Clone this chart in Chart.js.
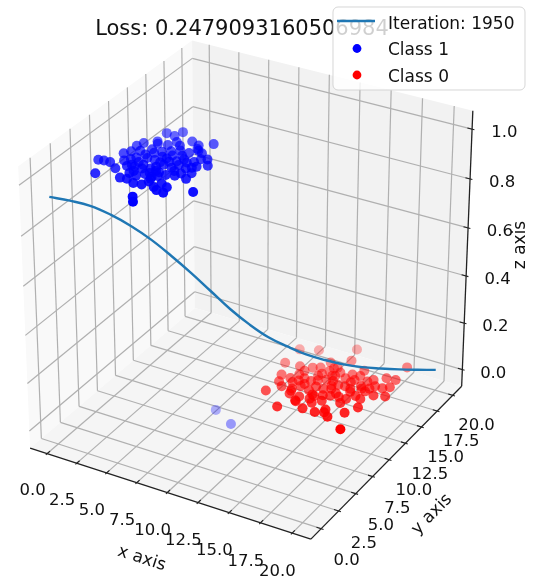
<!DOCTYPE html>
<html>
<head>
<meta charset="utf-8">
<script src="https://cdn.jsdelivr.net/npm/chart.js@4.4.1/dist/chart.umd.min.js"></script>
<style>
  body { margin: 0; background: #fff; }
  #wrap { width: 537px; height: 583px; }
</style>
</head>
<body>
<div id="wrap"><canvas id="grafico" width="537" height="583"></canvas></div>
<script>
// curve along the diagonal x = y, z
const curveX = [0, 1, 2, 3, 4, 5, 6, 7, 8, 9, 10, 11, 12, 13, 14, 15, 16, 17, 18, 19, 20];
const curveY = [0, 1, 2, 3, 4, 5, 6, 7, 8, 9, 10, 11, 12, 13, 14, 15, 16, 17, 18, 19, 20];
const curveZ = [0.94, 0.915, 0.885, 0.84, 0.785, 0.72, 0.645, 0.565, 0.48, 0.395, 0.32, 0.255, 0.205, 0.16, 0.125, 0.095, 0.072, 0.055, 0.04, 0.027, 0.015];

// Class 1 (blue)
const class1X = [3.2, 3.9, 4.1,
  2.4, 2.6, 3.5, 4.2, 5.4, 6.1, 6.9,
  2.2, 2.5, 3.6, 3.6, 4.4, 5.3, 5.4, 6.1, 6.5,
  1.2, 1.6, 2.1, 3.1, 3.8, 4.0, 4.6, 5.1, 5.2, 6.0, 6.3, 7.1, 7.3, 7.7,
  2.9, 3.4, 3.9, 4.5, 5.0, 5.2, 5.5, 6.2, 6.4, 7.1, 7.6, 8.2,
  2.1, 3.9, 4.1, 4.7, 5.1, 5.7, 5.8, 6.4, 7.0, 7.2, 7.8,
  5.1, 5.7, 5.9, 6.6, 6.8, 7.4,
  6.1, 6.5, 7.6, 9.3, 7.0,
  4.8, 5.6, 3.3, 4.3, 5.9, 6.7, 4.9, 3.0, 5.5, 6.6, 4.2, 5.3, 3.6,
  6.0, 7.4, 4.0, 5.0, 2.8, 6.9, 4.5, 3.3, 5.8, 7.9, 4.4, 6.3,
  8.6, 10.5];
const class1Y = [10.2, 10.1, 10.9,
  7.5, 8.1, 8.5, 8.7, 10.0, 9.7, 10.4,
  6.1, 6.6, 6.7, 7.6, 7.6, 7.5, 8.4, 8.4, 9.0,
  4.4, 4.5, 4.5, 5.6, 5.5, 6.3, 6.3, 6.2, 6.9, 6.9, 7.4, 7.4, 8.0, 8.2,
  3.9, 4.6, 4.8, 4.8, 5.1, 5.5, 6.0, 5.9, 6.5, 6.3, 6.9, 7.4,
  2.6, 2.9, 3.8, 3.7, 4.2, 4.1, 4.9, 4.8, 5.0, 5.5, 5.9,
  2.7, 2.8, 3.4, 2.9, 3.6, 3.3,
  1.0, 0.4, 2.5, 3.6, 2.6,
  7.0, 6.6, 6.0, 5.3, 7.8, 7.1, 8.0, 7.0, 5.0, 5.6, 4.2, 4.5, 4.9,
  4.4, 6.6, 7.2, 9.0, 5.2, 8.8, 9.4, 8.8, 3.8, 5.0, 3.0, 9.2,
  7.6, 6.5];
const class1Z = [1, 1, 1,
  1, 1, 1, 1, 1, 1, 1,
  1, 1, 1, 1, 1, 1, 1, 1, 1,
  1, 1, 1, 1, 1, 1, 1, 1, 1, 1, 1, 1, 1, 1,
  1, 1, 1, 1, 1, 1, 1, 1, 1, 1, 1, 1,
  1, 1, 1, 1, 1, 1, 1, 1, 1, 1, 1,
  1, 1, 1, 1, 1, 1,
  1, 1, 1, 1, 1,
  1, 1, 1, 1, 1, 1, 1, 1, 1, 1, 1, 1, 1,
  1, 1, 1, 1, 1, 1, 1, 1, 1, 1, 1, 1,
  0, 0];

// Class 0 (red)
const class0X = [9.7, 11.0, 13.4, 9.7, 11.8, 12.3, 13.8, 15.3, 17.8, 17.2, 17.9,
  10.3, 10.6, 11.1, 11.8, 12.0, 12.6, 12.7, 13.5, 13.8, 13.9, 14.6, 15.3, 15.4, 16.2,
  11.1, 10.4, 11.9, 12.3, 13.1, 13.3, 13.9, 14.2, 14.6, 15.1, 15.6, 16.1, 16.8, 17.0, 17.6, 18.3,
  12.9, 13.7, 13.8, 14.6, 14.8, 15.4, 16.0, 16.4, 16.7,
  13.0, 12.2, 14.9, 15.4, 16.0, 16.8, 17.3, 17.6,
  12.1, 11.5, 13.1, 13.4,
  13.0, 14.0, 12.8, 14.3, 15.8, 13.6, 12.4, 15.0, 16.3, 11.5, 14.8, 13.2, 17.5, 12.9,
  15.9, 14.1, 16.9, 11.4, 13.6, 15.2, 12.0, 14.4, 16.5, 10.9, 18.0, 13.9, 15.5, 12.6];
const class0Y = [18.0, 18.6, 20.1, 15.8, 16.2, 16.5, 18.5, 17.7, 19.7, 17.6, 17.7,
  14.2, 13.3, 14.1, 14.1, 14.6, 14.5, 15.4, 15.2, 16.0, 16.6, 16.1, 16.2, 16.9, 16.5,
  12.8, 11.7, 12.9, 13.5, 13.3, 14.0, 14.0, 14.7, 15.0, 15.1, 15.0, 15.7, 15.7, 16.2, 16.2, 15.3,
  12.2, 12.3, 12.8, 12.5, 13.4, 13.6, 13.6, 14.3, 15.2,
  11.5, 10.2, 10.9, 11.6, 10.8, 11.9, 13.0, 9.8,
  12.2, 15.5, 16.4, 17.1,
  14.8, 15.3, 15.8, 13.2, 14.6, 12.9, 13.9, 13.9, 15.4, 13.7, 16.8, 16.9, 15.0, 11.6,
  12.9, 11.9, 14.1, 14.9, 15.9, 15.8, 12.6, 14.3, 16.9, 15.9, 16.6, 10.9, 11.2, 17.5];
const class0Z = [0, 0, 0, 0, 0, 0, 0, 0, 0, 0, 0,
  0, 0, 0, 0, 0, 0, 0, 0, 0, 0, 0, 0, 0, 0,
  0, 0, 0, 0, 0, 0, 0, 0, 0, 0, 0, 0, 0, 0, 0, 0,
  0, 0, 0, 0, 0, 0, 0, 0, 0,
  0, 0, 0, 0, 0, 0, 0, 0,
  0, 0, 0, 0,
  0, 0, 0, 0, 0, 0, 0, 0, 0, 0, 0, 0, 0, 0,
  0, 0, 0, 0, 0, 0, 0, 0, 0, 0, 0, 0, 0, 0];

// axes
const xTicks = [0, 2.5, 5, 7.5, 10, 12.5, 15, 17.5, 20];
const yTicks = [0, 2.5, 5, 7.5, 10, 12.5, 15, 17.5, 20];
const zTicks = [0, 0.2, 0.4, 0.6, 0.8, 1.0];
const xLim = [-1, 21];
const yLim = [-1, 21];
const zLim = [-0.05, 1.05];

const titulo = "Loss: 0.2479093160506984";
const legendaTextos = ["Iteration: 1950", "Class 1", "Class 0"];

// camera (matplotlib default view)
const elev = 30 * Math.PI / 180;
const azim = -60 * Math.PI / 180;
const dist = 10;
const ce = Math.cos(elev), se = Math.sin(elev), ca = Math.cos(azim), sa = Math.sin(azim);
const U = [-sa, ca, 0];
const V = [-se * ca, -se * sa, ce];
const W = [ce * ca, ce * sa, se];
const H = 0.5 + 1 / 48; // pane half size

function norm(v, lim) {
  return (v - lim[0]) / (lim[1] - lim[0]) - 0.5;
}
function dot(a, b) {
  return a[0] * b[0] + a[1] * b[1] + a[2] * b[2];
}
function projQ(q) {
  const w = dot(q, W);
  const d = dist - w;
  return { x: dot(q, U) / d, y: dot(q, V) / d, w: w };
}
function proj(x, y, z) {
  return projQ([norm(x, xLim), norm(y, yLim), norm(z, zLim)]);
}
function montar(xs, ys, zs) {
  return xs.map((x, i) => proj(x, ys[i], zs[i]));
}
function alphas(pts) {
  const ws = pts.map((p) => p.w);
  const mn = Math.min(...ws), mx = Math.max(...ws);
  return ws.map((w) => 1 - 0.7 * (mx - w) / (mx - mn));
}

const ptsCurva = montar(curveX, curveY, curveZ);
const pts1 = montar(class1X, class1Y, class1Z);
const pts0 = montar(class0X, class0Y, class0Z);
const cores1 = alphas(pts1).map((a) => "rgba(0,0,255," + a.toFixed(3) + ")");
const cores0 = alphas(pts0).map((a) => "rgba(255,0,0," + a.toFixed(3) + ")");

const fonte = "DejaVu Sans";

function linha(ctx, a, b) {
  ctx.beginPath();
  ctx.moveTo(a[0], a[1]);
  ctx.lineTo(b[0], b[1]);
  ctx.stroke();
}

const cena3d = {
  id: "cena3d",
  beforeDatasetsDraw(chart) {
    const ctx = chart.ctx;
    const px = (q) => {
      const p = projQ(q);
      return [chart.scales.x.getPixelForValue(p.x), chart.scales.y.getPixelForValue(p.y)];
    };
    ctx.save();
    // panes
    const panes = [
      ["rgb(249,249,249)", [[-H, -H, -H], [-H, H, -H], [-H, H, H], [-H, -H, H]]],
      ["rgb(242,242,242)", [[-H, H, -H], [H, H, -H], [H, H, H], [-H, H, H]]],
      ["rgb(245,245,245)", [[-H, -H, -H], [H, -H, -H], [H, H, -H], [-H, H, -H]]],
    ];
    panes.forEach(([cor, cantos]) => {
      ctx.beginPath();
      cantos.forEach((c, i) => {
        const p = px(c);
        if (i === 0) ctx.moveTo(p[0], p[1]);
        else ctx.lineTo(p[0], p[1]);
      });
      ctx.closePath();
      ctx.fillStyle = cor;
      ctx.fill();
    });

    // grid
    ctx.strokeStyle = "#b0b0b0";
    ctx.lineWidth = 1.2;
    xTicks.forEach((v) => {
      const q = norm(v, xLim);
      linha(ctx, px([q, -H, -H]), px([q, H, -H]));
      linha(ctx, px([q, H, -H]), px([q, H, H]));
    });
    yTicks.forEach((v) => {
      const q = norm(v, yLim);
      linha(ctx, px([-H, q, -H]), px([H, q, -H]));
      linha(ctx, px([-H, q, -H]), px([-H, q, H]));
    });
    zTicks.forEach((v) => {
      const q = norm(v, zLim);
      linha(ctx, px([-H, -H, q]), px([-H, H, q]));
      linha(ctx, px([-H, H, q]), px([H, H, q]));
    });

    // axis lines
    ctx.strokeStyle = "#222";
    ctx.lineWidth = 1.3;
    linha(ctx, px([-H, -H, -H]), px([H, -H, -H]));
    linha(ctx, px([H, -H, -H]), px([H, H, -H]));
    linha(ctx, px([H, H, -H]), px([H, H, H]));

    // ticks
    const tOut = 0.1 / 12, tIn = 0.2 / 12;
    ctx.lineWidth = 1.1;
    xTicks.forEach((v) => {
      const q = norm(v, xLim);
      linha(ctx, px([q, -H - tOut, -H]), px([q, -H + tIn, -H]));
    });
    yTicks.forEach((v) => {
      const q = norm(v, yLim);
      linha(ctx, px([H + tOut, q, -H]), px([H - tIn, q, -H]));
    });
    zTicks.forEach((v) => {
      const q = norm(v, zLim);
      linha(ctx, px([H + tOut, H, q]), px([H - tIn, H, q]));
    });
    ctx.restore();
  },
  afterDraw(chart) {
    const ctx = chart.ctx;
    const px = (q) => {
      const p = projQ(q);
      return [chart.scales.x.getPixelForValue(p.x), chart.scales.y.getPixelForValue(p.y)];
    };
    ctx.save();
    ctx.fillStyle = "#111";
    ctx.textAlign = "center";
    ctx.textBaseline = "middle";

    // tick labels
    const off = 0.092;
    ctx.font = "16.5px '" + fonte + "'";
    xTicks.forEach((v) => {
      const p = px([norm(v, xLim), -H - off, -H - off]);
      ctx.fillText(v.toFixed(1), p[0], p[1]);
    });
    yTicks.forEach((v) => {
      const p = px([H + off, norm(v, yLim), -H - off]);
      ctx.fillText(v.toFixed(1), p[0], p[1]);
    });
    zTicks.forEach((v) => {
      const p = px([H + 0.1, H + 0.03, norm(v, zLim)]);
      ctx.fillText(v.toFixed(1), p[0], p[1]);
    });

    // axis labels
    ctx.font = "17px '" + fonte + "'";
    const rotulo = (texto, pos, a, b) => {
      const p = px(pos);
      const p1 = px(a), p2 = px(b);
      let ang = Math.atan2(p2[1] - p1[1], p2[0] - p1[0]);
      if (ang > Math.PI / 2) ang -= Math.PI;
      if (ang < -Math.PI / 2) ang += Math.PI;
      ctx.save();
      ctx.translate(p[0], p[1]);
      ctx.rotate(ang);
      ctx.fillText(texto, 0, 0);
      ctx.restore();
    };
    rotulo("x axis", [0, -H - 0.16, -H - 0.16], [-H, -H, -H], [H, -H, -H]);
    rotulo("y axis", [H + 0.16, 0, -H - 0.16], [H, -H, -H], [H, H, -H]);
    const pz = px([H + 0.13, H + 0.13, 0]);
    ctx.save();
    ctx.translate(pz[0], pz[1]);
    ctx.rotate(-Math.PI / 2);
    ctx.fillText("z axis", 0, 0);
    ctx.restore();

    // title
    ctx.font = "21px '" + fonte + "'";
    ctx.textBaseline = "alphabetic";
    ctx.fillText(titulo, 242, 35);

    // legend
    const bx = 333, by = 7, bw = 192, bh = 83, r = 5;
    ctx.beginPath();
    ctx.moveTo(bx + r, by);
    ctx.arcTo(bx + bw, by, bx + bw, by + bh, r);
    ctx.arcTo(bx + bw, by + bh, bx, by + bh, r);
    ctx.arcTo(bx, by + bh, bx, by, r);
    ctx.arcTo(bx, by, bx + bw, by, r);
    ctx.closePath();
    ctx.fillStyle = "rgba(255,255,255,0.8)";
    ctx.fill();
    ctx.strokeStyle = "rgba(204,204,204,0.8)";
    ctx.lineWidth = 1;
    ctx.stroke();

    ctx.strokeStyle = "#1f77b4";
    ctx.lineWidth = 2.4;
    linha(ctx, [337, 21], [375, 21]);
    ctx.fillStyle = "#0000ff";
    ctx.beginPath();
    ctx.arc(357, 48.5, 4.4, 0, Math.PI * 2);
    ctx.fill();
    ctx.fillStyle = "#ff0000";
    ctx.beginPath();
    ctx.arc(357, 75, 4.4, 0, Math.PI * 2);
    ctx.fill();

    ctx.fillStyle = "#111";
    ctx.textAlign = "left";
    ctx.font = "17px '" + fonte + "'";
    ctx.fillText(legendaTextos[0], 388, 28.5);
    ctx.fillText(legendaTextos[1], 388, 55);
    ctx.fillText(legendaTextos[2], 388, 81.5);
    ctx.restore();
  },
};

// pixel mapping of the projected plane
const kx = 3170, ky = 3140, ox = 249, oy = 280.8;

new Chart(document.getElementById("grafico"), {
  type: "scatter",
  data: {
    datasets: [
      {
        label: legendaTextos[1],
        data: pts1.map((p) => ({ x: p.x, y: p.y })),
        pointBackgroundColor: cores1,
        pointBorderWidth: 0,
        pointRadius: 5,
        order: 1,
      },
      {
        type: "line",
        label: legendaTextos[0],
        data: ptsCurva.map((p) => ({ x: p.x, y: p.y })),
        borderColor: "#1f77b4",
        borderWidth: 2.4,
        pointRadius: 0,
        tension: 0.4,
        fill: false,
        order: 2,
      },
      {
        label: legendaTextos[2],
        data: pts0.map((p) => ({ x: p.x, y: p.y })),
        pointBackgroundColor: cores0,
        pointBorderWidth: 0,
        pointRadius: 5,
        order: 3,
      },
    ],
  },
  options: {
    responsive: false,
    animation: false,
    layout: { padding: 0 },
    plugins: {
      legend: { display: false },
      tooltip: { enabled: false },
      title: { display: false },
    },
    scales: {
      x: { type: "linear", display: false, min: -ox / kx, max: (537 - ox) / kx },
      y: { type: "linear", display: false, min: (oy - 583) / ky, max: oy / ky },
    },
  },
  plugins: [cena3d],
});
</script>
</body>
</html>
